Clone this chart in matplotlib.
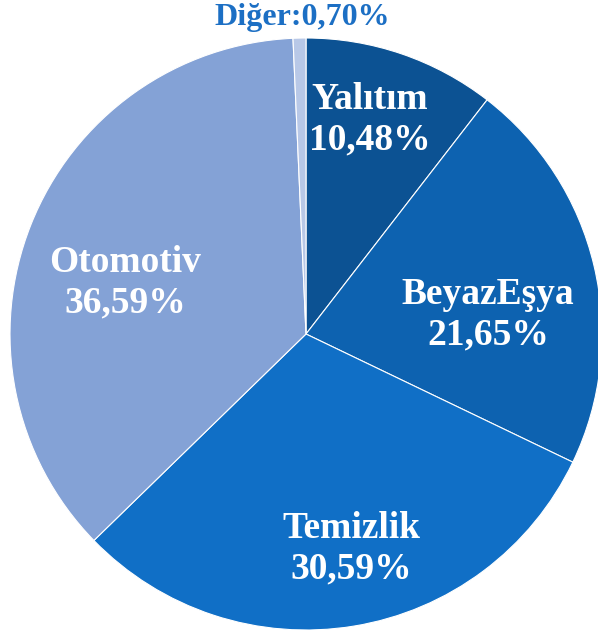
import matplotlib.pyplot as plt

# slice data
categories = ['Yalıtım', 'BeyazEşya', 'Temizlik', 'Otomotiv', 'Diğer']
shares = [10.48, 21.65, 30.59, 36.59, 0.70]
colors = ['#0c5293', '#0d62b0', '#106fc6', '#84a2d6', '#b8c8e7']

W, H = 598, 630
# label anchors in pixels from top-left (layout only)
label_pos = [(370, 120), (488, 315), (351, 549), (125, 283)]

fig = plt.figure(figsize=(W / 100, H / 100), dpi=100)
ax = fig.add_axes([0, 0, 1, 1])

wedges, _ = ax.pie(shares, colors=colors, startangle=90, counterclock=False,
                   center=(306, H - 334), radius=296,
                   wedgeprops=dict(edgecolor='white', linewidth=0.8))

ax.set_xlim(0, W)
ax.set_ylim(0, H)
ax.set_aspect('equal')
ax.axis('off')

def fmt(v):
    return ('%.2f' % v).replace('.', ',') + '%'

for name, val, (x, y) in zip(categories[:4], shares[:4], label_pos):
    ax.text(x, H - y, name + '\n' + fmt(val), ha='center', va='center',
            color='white', fontsize=27, fontweight='bold',
            family='Liberation Serif', linespacing=1.2)

ax.text(302, H - 17, categories[4] + ':' + fmt(shares[4]), ha='center', va='center',
        color='#1c6fc4', fontsize=23, fontweight='bold', family='Liberation Serif')

fig.savefig('out.png')
